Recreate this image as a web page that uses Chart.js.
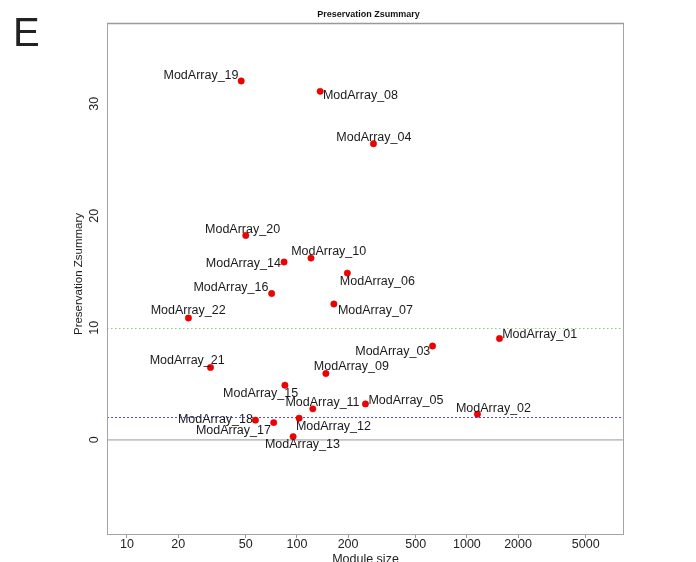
<!DOCTYPE html>
<html>
<head>
<meta charset="utf-8">
<title>Preservation Zsummary</title>
<script src="https://cdn.jsdelivr.net/npm/chart.js@4.4.1/dist/chart.umd.min.js"></script>
<style>
  html, body { margin: 0; padding: 0; background: #fff; }
  #wrap { width: 696px; height: 562px; }
</style>
</head>
<body>
<div id="wrap"><canvas id="zsummaryChart" width="696" height="562"></canvas></div>
<script>
// module names, sizes and preservation Zsummary values
const modules = [
  "ModArray_01", "ModArray_02", "ModArray_03", "ModArray_04", "ModArray_05", "ModArray_06",
  "ModArray_07", "ModArray_08", "ModArray_09", "ModArray_10", "ModArray_11", "ModArray_12",
  "ModArray_13", "ModArray_14", "ModArray_15", "ModArray_16", "ModArray_17", "ModArray_18",
  "ModArray_19", "ModArray_20", "ModArray_21", "ModArray_22"
];
const moduleSizes = [1555, 1154, 628, 282, 253, 198, 165, 137, 148, 121, 124, 103, 95, 84, 85, 71, 73, 57, 47, 50, 31, 23];
const zsummary = [9.04, 2.29, 8.37, 26.43, 3.21, 14.88, 12.12, 31.10, 5.92, 16.22, 2.77, 1.94, 0.29, 15.87, 4.88, 13.06, 1.54, 1.76, 32.03, 18.24, 6.46, 10.87];

const xTicks = [10, 20, 50, 100, 200, 500, 1000, 2000, 5000];
const yTicks = [0, 10, 20, 30];
const thresholds = [2, 10];

// where each text label sits relative to its point (text centre, px)
const labelOffsets = {
  ModArray_01: [40.2, -4.7], ModArray_02: [16, -6.6], ModArray_03: [-39.8, 4.7],
  ModArray_04: [0.4, -6.7], ModArray_05: [40.5, -4], ModArray_06: [30, 8.4],
  ModArray_07: [41.5, 6.4], ModArray_08: [40.3, 4], ModArray_09: [25.5, -7.7],
  ModArray_10: [17.7, -7.3], ModArray_11: [9.7, -6.7], ModArray_12: [34.3, 8.4],
  ModArray_13: [9.3, 7.6], ModArray_14: [-40.7, 1], ModArray_15: [-24.3, 8],
  ModArray_16: [-40.7, -6.4], ModArray_17: [-40.3, 7.3], ModArray_18: [-40, -1],
  ModArray_19: [-40.2, -5.6], ModArray_20: [-3.2, -6.7], ModArray_21: [-23.3, -7],
  ModArray_22: [-0.3, -7.6]
};

const FONT = '"Liberation Sans", Arial, Helvetica, sans-serif';
const thresholdStyle = {
  2: { color: "#4f4fff", dash: [2, 2] },
  10: { color: "#7fcf7f", dash: [1.5, 2.5] }
};

const decorPlugin = {
  id: "decor",
  beforeDatasetsDraw(chart) {
    const { ctx, chartArea: a, scales } = chart;
    const y = scales.y;
    ctx.save();

    // zero line
    const y0 = y.getPixelForValue(0);
    ctx.strokeStyle = "#c4c4c4";
    ctx.lineWidth = 1.6;
    ctx.beginPath();
    ctx.moveTo(a.left, y0);
    ctx.lineTo(a.right, y0);
    ctx.stroke();

    // threshold lines
    thresholds.forEach(function (t) {
      const py = Math.round(y.getPixelForValue(t)) + 0.5;
      ctx.strokeStyle = thresholdStyle[t].color;
      ctx.setLineDash(thresholdStyle[t].dash);
      ctx.lineWidth = 1;
      ctx.beginPath();
      ctx.moveTo(a.left, py);
      ctx.lineTo(a.right, py);
      ctx.stroke();
    });
    ctx.setLineDash([]);

    // plot box
    ctx.strokeStyle = "#a4a4a4";
    ctx.lineWidth = 1;
    ctx.strokeRect(a.left + 0.5, a.top + 0.5, a.right - a.left - 1, a.bottom - a.top);
    ctx.strokeStyle = "#9a9a9a";
    ctx.lineWidth = 1.6;
    ctx.beginPath();
    ctx.moveTo(a.left, a.top + 0.5);
    ctx.lineTo(a.right, a.top + 0.5);
    ctx.stroke();
    ctx.restore();
  },
  afterDatasetsDraw(chart) {
    const { ctx } = chart;
    const meta = chart.getDatasetMeta(0);
    ctx.save();
    ctx.font = "12.5px " + FONT;
    ctx.fillStyle = "#1a1a1a";
    ctx.textAlign = "center";
    ctx.textBaseline = "middle";
    meta.data.forEach(function (pt, i) {
      const off = labelOffsets[modules[i]];
      ctx.fillText(modules[i], pt.x + off[0], pt.y + off[1] + 0.5);
    });
    ctx.restore();
  },
  afterDraw(chart) {
    const { ctx, chartArea: a, scales } = chart;
    const y = scales.y;
    ctx.save();
    ctx.fillStyle = "#222";

    // rotated y tick labels
    ctx.font = "12.5px " + FONT;
    ctx.textAlign = "center";
    ctx.textBaseline = "middle";
    yTicks.forEach(function (v) {
      ctx.save();
      ctx.translate(a.left - 12, y.getPixelForValue(v));
      ctx.rotate(-Math.PI / 2);
      ctx.fillText(String(v), 0, 0);
      ctx.restore();
    });

    // y title
    ctx.save();
    ctx.font = "11.5px " + FONT;
    ctx.translate(a.left - 28, 274);
    ctx.rotate(-Math.PI / 2);
    ctx.fillText("Preservation Zsummary", 0, 0);
    ctx.restore();

    // chart title
    ctx.font = "bold 9px " + FONT;
    ctx.fillStyle = "#111";
    ctx.fillText("Preservation Zsummary", (a.left + a.right) / 2 + 3, 14.5);

    // panel letter
    ctx.font = "40px " + FONT;
    ctx.fillStyle = "#222";
    ctx.textAlign = "left";
    ctx.textBaseline = "alphabetic";
    ctx.fillText("E", 13, 46);
    ctx.restore();
  }
};

const ctx = document.getElementById("zsummaryChart").getContext("2d");

const data = {
  datasets: [
    {
      label: "Zsummary",
      data: moduleSizes.map(function (s, i) { return { x: s, y: zsummary[i] }; }),
      backgroundColor: "#f00000",
      borderColor: "#d40000",
      borderWidth: 0.5,
      pointRadius: 3.2,
      pointHoverRadius: 3.2
    }
  ]
};

const config = {
  type: "scatter",
  data: data,
  options: {
    responsive: false,
    animation: false,
    events: [],
    layout: {
      padding: { top: 23, right: 72, bottom: 0, left: 0 }
    },
    plugins: {
      legend: { display: false },
      tooltip: { enabled: false },
      title: { display: false }
    },
    scales: {
      x: {
        type: "logarithmic",
        position: "bottom",
        min: 7.63,
        max: 8400,
        afterBuildTicks: function (scale) {
          scale.ticks = xTicks.map(function (v) { return { value: v }; });
        },
        afterFit: function (scale) {
          scale.height = 28;
        },
        border: { display: false },
        grid: {
          drawOnChartArea: false,
          drawTicks: true,
          tickLength: 4,
          color: "#999"
        },
        ticks: {
          autoSkip: false,
          maxRotation: 0,
          padding: 0,
          color: "#222",
          font: { family: FONT, size: 12.5, lineHeight: 1 },
          callback: function (value) { return String(value); }
        },
        title: {
          display: true,
          text: "Module size",
          color: "#222",
          padding: { top: 0, bottom: -4 },
          font: { family: FONT, size: 12.5, lineHeight: 1 }
        }
      },
      y: {
        type: "linear",
        min: -8.4,
        max: 37.2,
        afterBuildTicks: function (scale) {
          scale.ticks = yTicks.map(function (v) { return { value: v }; });
        },
        afterFit: function (scale) {
          scale.width = 107;
        },
        border: { display: false },
        grid: { display: false },
        ticks: { display: false }
      }
    }
  },
  plugins: [decorPlugin]
};

new Chart(ctx, config);
</script>
</body>
</html>
